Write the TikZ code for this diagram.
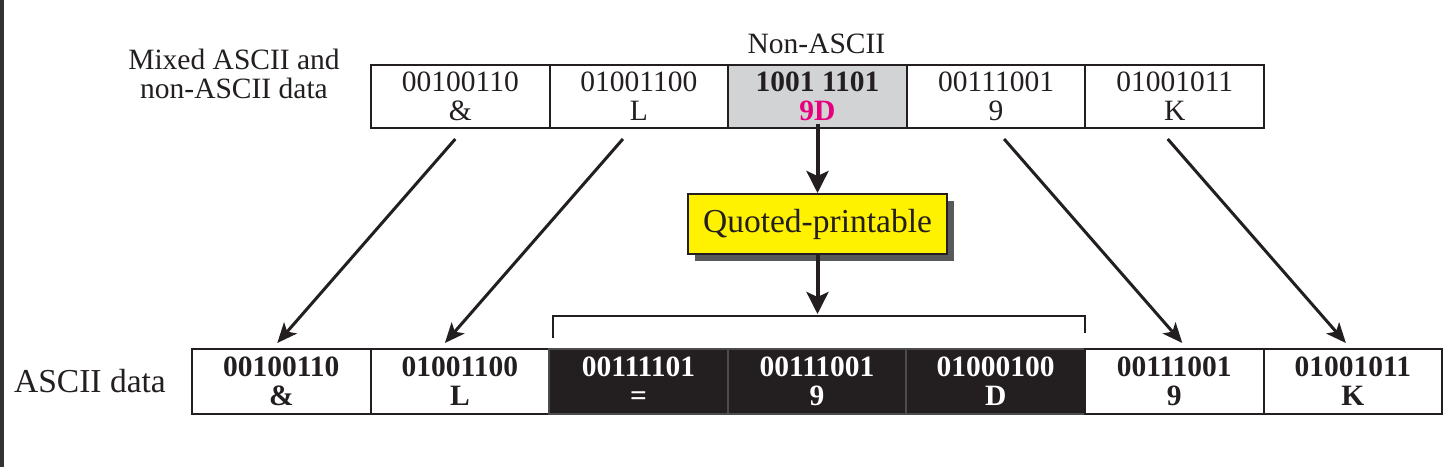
\documentclass[tikz,border=0pt]{standalone}
\usepackage{fontspec}
\setmainfont{Liberation Serif}
\usetikzlibrary{arrows.meta,calc}
\definecolor{ink}{HTML}{231F20}
\definecolor{cellgray}{HTML}{D1D3D4}
\definecolor{qpyellow}{HTML}{FFF200}
\definecolor{shadowgray}{HTML}{58595B}
\definecolor{magentaD}{HTML}{E6007E}
\definecolor{edgedark}{HTML}{333333}
\tikzset{
  cellbase/.style={rectangle, draw=ink, line width=2pt, minimum width=178.6pt, inner sep=0pt, align=center, text=ink,
    font=\fontsize{29.5}{29}\selectfont},
  celltop/.style={cellbase, minimum height=63pt},
  cellbot/.style={cellbase, minimum height=65pt, font=\fontsize{29.5}{29}\selectfont\bfseries},
  cellblack/.style={cellbot, fill=ink, draw=black!70, text=white},
  lbl/.style={inner sep=0pt, align=center, text=ink, font=\fontsize{29.5}{29}\selectfont},
  qpbox/.style={rectangle, draw=ink, line width=2pt, fill=qpyellow, minimum width=259pt, minimum height=60pt, inner sep=0pt, text=ink,
    font=\fontsize{33.5}{34}\selectfont},
  diagarr/.style={draw=ink, line width=3pt, -{Stealth[length=20pt,width=17pt,inset=5pt]}},
  vertarr/.style={draw=ink, line width=4pt, -{Stealth[length=22pt,width=22pt,inset=5pt]}},
  brack/.style={draw=ink, line width=2pt},
}
\begin{document}
\begin{tikzpicture}[x=1pt,y=-1pt]
\useasboundingbox (0,0) rectangle (1452,467);
\fill[white] (0,0) rectangle (1452,467);
\fill[edgedark] (0,0) rectangle (4,467);

% labels
\node[lbl] (mixed) at (234,74) {Mixed ASCII and\\non-ASCII data};
\node[lbl, anchor=base] (nonascii) at (816.5,53) {Non-ASCII};
\node[lbl, font=\fontsize{33.5}{34}\selectfont, anchor=base] (asciidata) at (90,392) {ASCII data};

% top row
\node[celltop] (t1) at (460.3,96.5) {00100110\\\&};
\node[celltop] (t2) at (638.9,96.5) {01001100\\L};
\node[celltop, fill=cellgray] (t3) at (817.5,96.5) {\bfseries 1001 1101\\\bfseries\textcolor{magentaD}{9D}};
\node[celltop] (t4) at (996.1,96.5) {00111001\\9};
\node[celltop] (t5) at (1174.7,96.5) {01001011\\K};

% bottom row
\node[cellbot] (b1) at (281.3,381.5) {00100110\\\&};
\node[cellbot] (b2) at (459.9,381.5) {01001100\\L};
\node[cellblack] (b3) at (638.5,381.5) {00111101\\=};
\node[cellblack] (b4) at (817.1,381.5) {00111001\\9};
\node[cellblack] (b5) at (995.7,381.5) {01000100\\D};
\node[cellbot] (b6) at (1174.3,381.5) {00111001\\9};
\node[cellbot] (b7) at (1352.9,381.5) {01001011\\K};

% quoted-printable box with shadow
\fill[shadowgray] (695,201) rectangle (954,261);
\node[qpbox] (qp) at (817.5,224) {Quoted-printable};

% bracket
\coordinate (bl) at (553,338);
\coordinate (blt) at (553,316);
\coordinate (bm) at (817.5,316);
\coordinate (brt) at (1085,316);
\coordinate (br) at (1085,333);
\draw[brack] (bl) -- (blt) -- (brt) -- (br);

% arrows
\draw[vertarr] ([yshift=5]t3.south) -- (qp.north);
\draw[vertarr] (qp.south) -- ([yshift=2]bm);
\draw[diagarr] ([shift={(-5,10)}]t1.south) -- ([shift={(-4,-5)}]b1.north);
\draw[diagarr] ([shift={(-16,10)}]t2.south) -- ([shift={(-15,-5)}]b2.north);
\draw[diagarr] ([shift={(8,10)}]t4.south) -- ([shift={(8,-5)}]b6.north);
\draw[diagarr] ([shift={(-7,10)}]t5.south) -- ([shift={(-7,-5)}]b7.north);
\end{tikzpicture}
\end{document}
